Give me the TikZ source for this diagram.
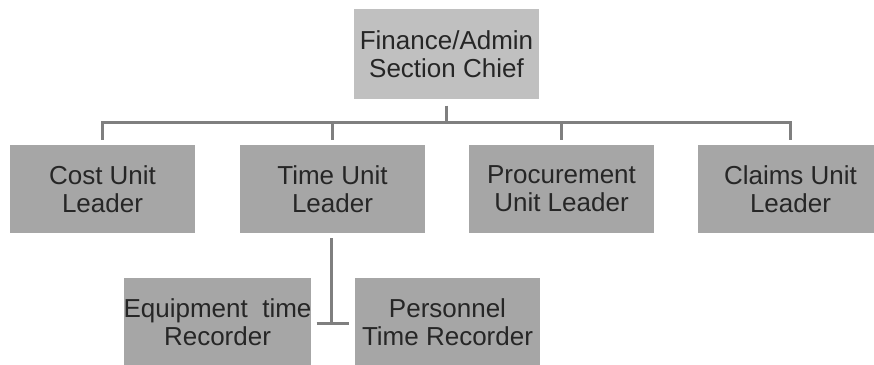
\documentclass[tikz,border=0pt]{standalone}
\usepackage{fontspec}
\setmainfont{Liberation Sans}
\begin{document}
\begin{tikzpicture}[x=1pt,y=1pt,
  box/.style={rectangle, fill=boxgray, minimum width=185pt, minimum height=88pt, inner sep=0pt,
    align=center, font=\fontsize{26}{28}\selectfont, text=black!85},
  topbox/.style={box, fill=topgray, minimum height=90pt},
  conn/.style={draw=linegray, line width=3pt}]
\definecolor{boxgray}{HTML}{A6A6A6}
\definecolor{topgray}{HTML}{C0C0C0}
\definecolor{linegray}{HTML}{7F7F7F}
\useasboundingbox (0,0) rectangle (874,364);
\begin{scope}
\clip (0,0) rectangle (874,364);
\node[topbox] (top) at (446.5,309.5) {Finance/Admin\\Section Chief};
\node[box] (cost) at (102.5,175) {Cost Unit\\Leader};
\node[box] (time) at (332.5,175) {Time Unit\\Leader};
\node[box] (proc) at (561.5,175) {Procurement\\Unit Leader};
\node[box] (claims) at (790.5,175) {Claims Unit\\Leader};
\node[box] (equip) at (217.5,42) {Equipment~~time\\Recorder};
\node[box] (pers) at (447.5,42) {Personnel\\Time Recorder};
\coordinate (bus) at (446.5,241);
\coordinate (junc) at (331,41);
\draw[conn] ([yshift=-6pt]top.south) -- (bus);
\draw[conn] ([yshift=5pt]cost.north) |- (bus) -| ([yshift=5pt]claims.north);
\draw[conn] ([yshift=5pt]time.north) -- (time.north |- bus);
\draw[conn] ([yshift=5pt]proc.north) -- (proc.north |- bus);
\draw[conn] ([xshift=-1.5pt,yshift=-5pt]time.south) -- (junc);
\draw[conn] ([xshift=5pt]equip.east |- junc) -- ([xshift=-6pt]pers.west |- junc);
\end{scope}
\end{tikzpicture}
\end{document}
